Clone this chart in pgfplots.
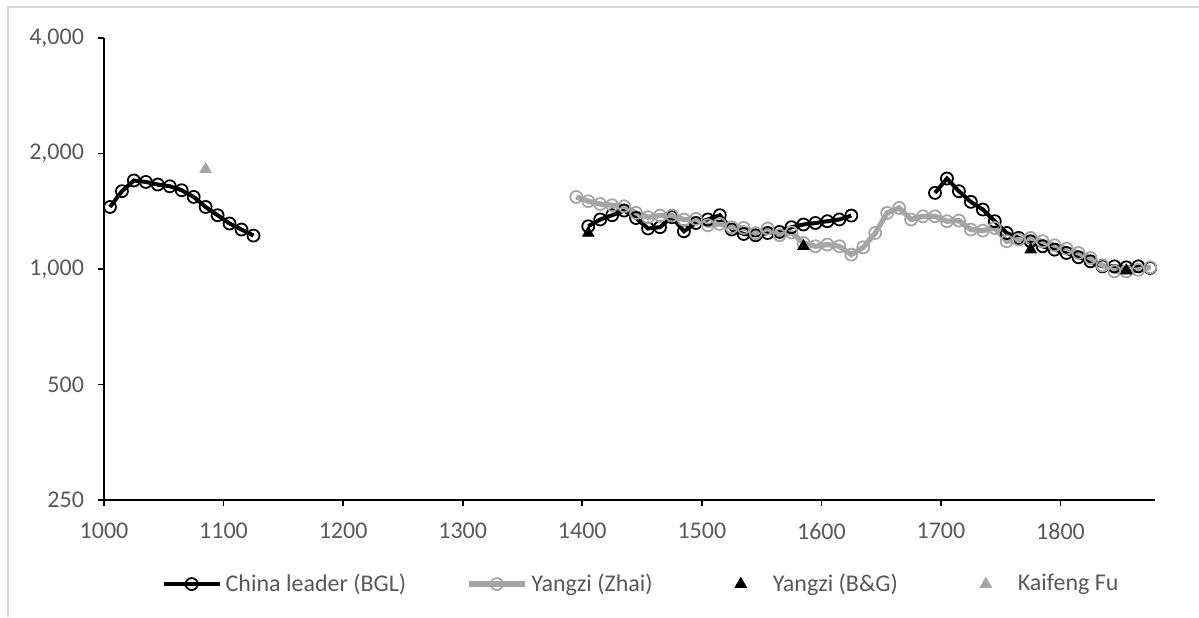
\documentclass[border=0pt]{standalone}
\usepackage{pgfplots}
\pgfplotsset{compat=1.18}
\usepackage{fontspec}
\setmainfont{Carlito}
\definecolor{zgray}{RGB}{165,165,165}
\definecolor{txtgray}{RGB}{89,89,89}
\begin{document}
\begin{tikzpicture}
\useasboundingbox (-52pt,-58.5pt) rectangle (547.5pt,250pt);
\draw[color=black!15, line width=0.6pt] (-48pt,-58.5pt) -- (-48pt,246.5pt) -- (547.5pt,246.5pt);
\begin{axis}[
  at={(0,0)}, anchor=south west,
  scale only axis, width=525.5pt, height=231pt,
  xmin=1000, xmax=1879, ymin=250, ymax=4000,
  ymode=log, log basis y=2,
  ytick={250,500,1000,2000,4000},
  yticklabels={250,500,{1,000},{2,000},{4,000}},
  xtick={1000,1100,...,1800},
  axis lines*=left,
  axis line style={black, line width=0.8pt},
  tick align=outside, major tick length=3pt,
  every tick/.style={black, line width=0.8pt},
  minor tick num=0,
  /pgf/number format/assume math mode=true,
  /pgf/number format/1000 sep={},
  tick label style={font=\fontsize{12}{14}\selectfont, text=txtgray},
  yticklabel style={xshift=-3.5pt},
  xticklabel style={yshift=-5pt},
  unbounded coords=jump,
  legend columns=4,
  legend style={draw=none, at={(0.512,-0.182)}, anchor=center,
    font=\fontsize{12}{14}\selectfont, text=txtgray,
    /tikz/every even column/.append style={column sep=28pt}},
  legend image code/.code={\draw[mark repeat=2,mark phase=2] plot coordinates {(0pt,0pt) (14pt,0pt) (28pt,0pt)};},
]
\addplot[black, line width=2pt, mark=o, mark size=3pt, mark options={line width=0.9pt, fill=none}] coordinates {
(1005,1451) (1015,1595) (1025,1701) (1035,1686) (1045,1660) (1055,1643) (1065,1604)
(1075,1541) (1085,1451) (1095,1381) (1105,1314) (1115,1267) (1125,1222)
(1130,nan)
(1405,1292) (1415,1346) (1425,1381) (1435,1420) (1445,1358) (1455,1275) (1465,1285)
(1475,1365) (1485,1254) (1495,1318) (1505,1346) (1515,1381) (1525,1267) (1535,1234)
(1545,1224) (1555,1241) (1565,1249) (1575,1285) (1585,1306) (1595,1318) (1605,1332)
(1615,1346) (1625,1378)
(1630,nan)
(1695,1579) (1705,1721) (1715,1595) (1725,1496) (1735,1429) (1745,1332) (1755,1241)
(1765,1205) (1775,1181) (1785,1146) (1795,1123) (1805,1101) (1815,1073) (1825,1047)
(1835,1016) (1845,1016) (1855,1010) (1865,1016) (1875,1006)
};
\addlegendentry{China leader (BGL)}
\addplot[zgray, line width=2.6pt, mark=o, mark size=3pt, mark options={line width=0.9pt, fill=none}] coordinates {
(1395,1541) (1405,1502) (1415,1477) (1425,1466) (1435,1457) (1445,1400) (1455,1364)
(1465,1378) (1475,1378) (1485,1345) (1495,1350) (1505,1300) (1515,1310) (1525,1285)
(1535,1280) (1545,1240) (1555,1275) (1565,1225) (1575,1245) (1585,1169) (1595,1146)
(1605,1158) (1615,1146) (1625,1090) (1635,1139) (1645,1241) (1655,1400) (1665,1443)
(1675,1346) (1685,1372) (1695,1372) (1705,1332) (1715,1337) (1725,1267) (1735,1259)
(1745,1279) (1755,1181) (1765,1193) (1775,1205) (1785,1181) (1795,1153) (1805,1130)
(1815,1101) (1825,1068) (1835,1022) (1845,986) (1855,986) (1865,995) (1875,1010)
};
\addlegendentry{Yangzi (Zhai)}
\addplot[only marks, black, mark=triangle*, mark size=3.3pt,
  legend image code/.code={\path[draw=none,fill=none] (0pt,-3pt) rectangle (28pt,3pt);\draw[mark repeat=2,mark phase=2] plot coordinates {(0pt,0pt) (14pt,0pt) (28pt,0pt)};}] coordinates {
(1405,1241) (1585,1146) (1775,1123) (1855,990)
};
\addlegendentry{Yangzi (B\&G)}
\addplot[only marks, zgray, mark=triangle*, mark size=3.3pt,
  legend image code/.code={\path[draw=none,fill=none] (0pt,-3pt) rectangle (28pt,3pt);\draw[mark repeat=2,mark phase=2] plot coordinates {(0pt,0pt) (14pt,0pt) (28pt,0pt)};}] coordinates {
(1085,1820)
};
\addlegendentry{Kaifeng Fu}
\end{axis}
\end{tikzpicture}
\end{document}
